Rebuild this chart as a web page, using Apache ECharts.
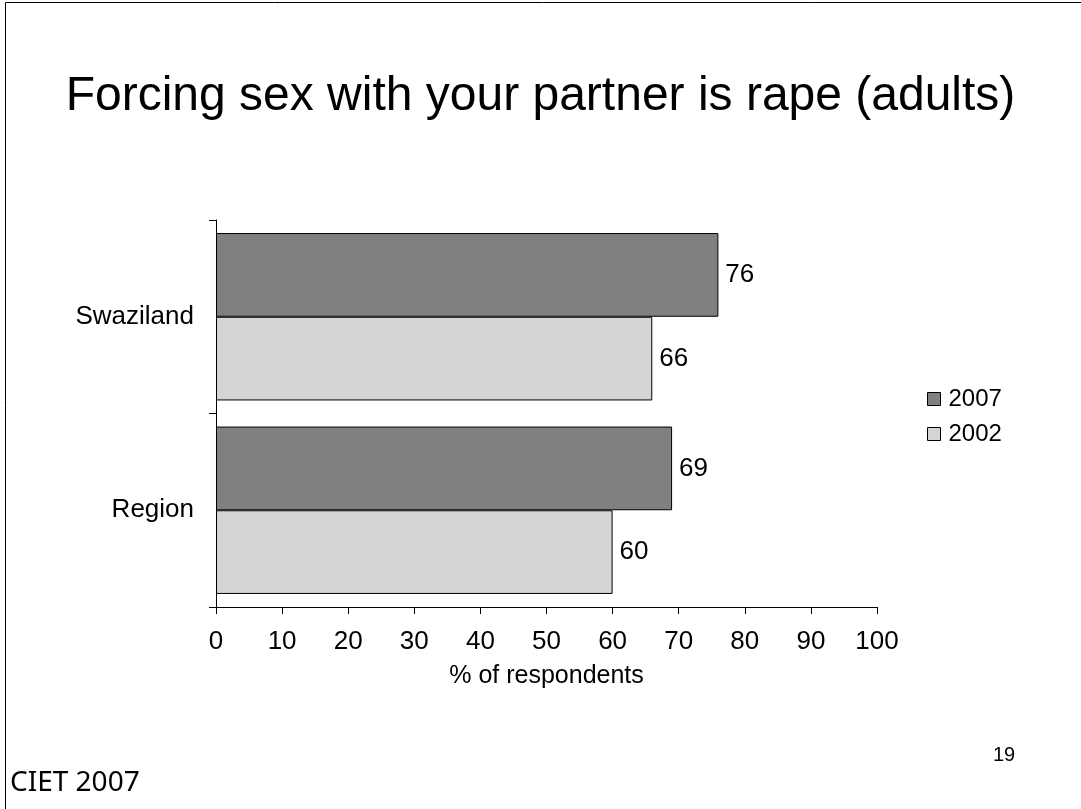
<!DOCTYPE html>
<html>
<head>
<meta charset="utf-8">
<script src="https://cdn.jsdelivr.net/npm/echarts@6/dist/echarts.min.js"></script>
<style>
html,body{margin:0;padding:0;background:#fff;}
#chart{width:1081px;height:809px;}
</style>
</head>
<body>
<div id="chart"></div>
<script>
const categories = ['Swaziland', 'Region'];
const seriesNames = ['2007', '2002'];
const values2007 = [76, 69];
const values2002 = [66, 60];
const xTicks = [0, 10, 20, 30, 40, 50, 60, 70, 80, 90, 100];

const FONT = '"Liberation Sans", Arial, sans-serif';
const chart = echarts.init(document.getElementById('chart'), null, {renderer: 'canvas'});

const valueLabel = {show: true, position: 'right', distance: 7, fontFamily: FONT, fontSize: 26, color: '#000'};

const option = {
  backgroundColor: '#ffffff',
  animation: false,
  title: {
    text: 'Forcing sex with your partner is rape (adults)',
    left: 'center',
    top: 68,
    textStyle: {fontFamily: FONT, fontSize: 48, fontWeight: 'normal', color: '#000'}
  },
  legend: {
    orient: 'vertical',
    left: 922,
    top: 382,
    itemWidth: 13,
    itemHeight: 13,
    itemGap: 11,
    icon: 'rect',
    data: seriesNames,
    itemStyle: {borderColor: '#000', borderWidth: 1},
    textStyle: {fontFamily: FONT, fontSize: 24, color: '#000', padding: [0, 0, 0, 3]}
  },
  grid: {left: 216, right: 204, top: 220, bottom: 202, containLabel: false},
  xAxis: {
    type: 'value',
    min: xTicks[0],
    max: xTicks[xTicks.length - 1],
    interval: 10,
    name: '% of respondents',
    nameLocation: 'middle',
    nameGap: 57,
    nameTextStyle: {fontFamily: FONT, fontSize: 25, color: '#000'},
    axisLine: {show: true, lineStyle: {color: '#000', width: 1}},
    axisTick: {show: true, length: 7, lineStyle: {color: '#000'}},
    axisLabel: {fontFamily: FONT, fontSize: 26, color: '#000', margin: 22},
    splitLine: {show: false}
  },
  yAxis: {
    type: 'category',
    inverse: true,
    data: categories,
    axisLine: {show: true, lineStyle: {color: '#000', width: 1}},
    axisTick: {show: true, length: 7, inside: false, lineStyle: {color: '#000'}},
    axisLabel: {fontFamily: FONT, fontSize: 26, color: '#000', margin: 22}
  },
  series: [
    {
      name: seriesNames[0],
      type: 'bar',
      data: values2007,
      barGap: '0%',
      barCategoryGap: '13.5%',
      itemStyle: {color: '#808080', borderColor: '#000', borderWidth: 1},
      label: valueLabel
    },
    {
      name: seriesNames[1],
      type: 'bar',
      data: values2002,
      barGap: '0%',
      barCategoryGap: '13.5%',
      itemStyle: {color: '#d4d4d4', borderColor: '#000', borderWidth: 1},
      label: valueLabel
    }
  ],
  graphic: [
    {type: 'line', shape: {x1: 5.5, y1: 2.5, x2: 1081, y2: 2.5}, style: {stroke: '#000', lineWidth: 1}},
    {type: 'line', shape: {x1: 5.5, y1: 2.5, x2: 5.5, y2: 809}, style: {stroke: '#000', lineWidth: 1}},
    {type: 'text', left: 993, top: 745, style: {text: '19', fontFamily: FONT, fontSize: 20, fill: '#000'}},
    {type: 'text', left: 10, top: 769, style: {text: 'CIET 2007', fontFamily: '"Noto Sans", "DejaVu Sans", sans-serif', fontSize: 28, fill: '#000'}}
  ]
};
chart.setOption(option);
</script>
</body>
</html>
